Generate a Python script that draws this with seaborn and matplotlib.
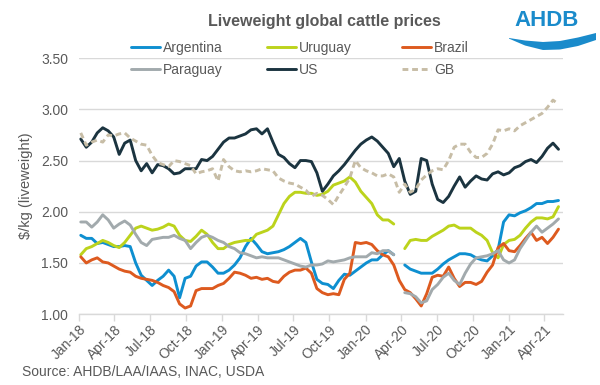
import numpy as np
import pandas as pd
import matplotlib
matplotlib.use("Agg")
import matplotlib.pyplot as plt
import matplotlib.dates as mdates
from matplotlib.patches import Polygon
import seaborn as sns

# ---------------- data (fortnightly, $/kg liveweight) ----------------
dates = pd.date_range("2018-01-05", periods=88, freq="14D")
nan = np.nan

argentina = [1.77, 1.74, 1.74, 1.69, 1.70, 1.68, 1.66, 1.66, 1.67, 1.66,
             1.50, 1.38, 1.33, 1.28, 1.33, 1.37, 1.43, 1.37, 1.16, 1.35,
             1.37, 1.47, 1.51, 1.51, 1.46, 1.40, 1.40, 1.43, 1.48, 1.55,
             1.66, 1.74, 1.68, 1.61, 1.59, 1.60, 1.61, 1.63, 1.66, 1.70,
             1.74, 1.70, 1.51, 1.34, 1.30, 1.29, 1.25, 1.33, 1.39, 1.38,
             1.42, 1.46, 1.50, 1.53, 1.53, 1.58, 1.62, 1.58, nan, 1.48,
             1.44, 1.42, 1.40, 1.40, 1.40, 1.44, 1.49, 1.53, 1.56, 1.59,
             1.59, 1.58, 1.55, 1.53, 1.52, 1.57, 1.63, 1.90, 1.97, 1.96,
             1.99, 2.01, 2.04, 2.08, 2.08, 2.10, 2.10, 2.11]

uruguay = [1.58, 1.64, 1.66, 1.69, 1.72, 1.70, 1.67, 1.65, 1.70, 1.77,
           1.84, 1.86, 1.84, 1.82, 1.83, 1.85, 1.88, 1.86, 1.77, 1.72,
           1.71, 1.76, 1.82, 1.78, 1.70, 1.64, 1.64, 1.68, 1.70, 1.71,
           1.72, 1.72, 1.78, 1.80, 1.82, 1.86, 1.97, 2.08, 2.15, 2.19,
           2.19, 2.18, 2.18, 2.16, 2.17, 2.20, 2.26, 2.28, 2.30, 2.34,
           2.29, 2.20, 2.14, 2.08, 1.97, 1.92, 1.92, 1.88, nan, 1.64,
           1.72, 1.73, 1.72, 1.72, 1.76, 1.79, 1.82, 1.86, 1.87, 1.84,
           1.84, 1.84, 1.80, 1.77, 1.72, 1.60, 1.55, 1.68, 1.72, 1.73,
           1.77, 1.84, 1.90, 1.94, 1.94, 1.93, 1.95, 2.05]

brazil = [1.56, 1.50, 1.53, 1.55, 1.51, 1.50, 1.47, 1.44, 1.42, 1.41,
          1.37, 1.35, 1.34, 1.33, 1.31, 1.28, 1.26, 1.22, 1.10, 1.06,
          1.08, 1.23, 1.25, 1.25, 1.25, 1.28, 1.30, 1.35, 1.41, 1.40,
          1.38, 1.35, 1.36, 1.34, 1.35, 1.32, 1.31, 1.37, 1.41, 1.43,
          1.43, 1.45, 1.40, 1.25, 1.21, 1.19, 1.20, 1.19, 1.34, 1.40,
          1.70, 1.69, 1.70, 1.68, 1.62, 1.58, 1.56, 1.48, 1.33, 1.24,
          1.21, 1.15, 1.08, 1.20, 1.36, 1.38, 1.37, 1.46, 1.35, 1.27,
          1.31, 1.31, 1.29, 1.32, 1.41, 1.48, 1.65, 1.69, 1.62, 1.61,
          1.67, 1.74, 1.80, 1.72, 1.75, 1.69, 1.75, 1.83]

paraguay = [1.90, 1.90, 1.85, 1.90, 1.97, 1.92, 1.84, 1.88, 1.91, 1.87,
            1.78, 1.70, 1.67, 1.73, 1.74, 1.75, 1.75, 1.77, 1.74, 1.72,
            1.64, 1.70, 1.75, 1.77, 1.75, 1.72, 1.70, 1.66, 1.64, 1.60,
            1.59, 1.57, 1.55, 1.56, 1.55, 1.55, 1.55, 1.53, 1.51, 1.49,
            1.47, 1.46, 1.48, 1.48, 1.49, 1.52, 1.51, 1.52, 1.53, 1.55,
            1.56, 1.56, 1.56, 1.60, 1.59, 1.62, 1.62, 1.58, nan, 1.21,
            1.20, 1.17, 1.11, 1.13, 1.24, 1.29, 1.36, 1.40, 1.33, 1.29,
            1.40, 1.49, 1.55, 1.56, 1.57, 1.59, 1.62, 1.53, 1.50, 1.53,
            1.64, 1.72, 1.80, 1.86, 1.80, 1.84, 1.88, 1.93]

us = [2.71, 2.63, 2.68, 2.77, 2.82, 2.79, 2.73, 2.56, 2.67, 2.70,
      2.50, 2.40, 2.47, 2.38, 2.46, 2.45, 2.42, 2.37, 2.38, 2.42,
      2.42, 2.42, 2.51, 2.50, 2.54, 2.61, 2.68, 2.72, 2.72, 2.74,
      2.76, 2.80, 2.81, 2.76, 2.81, 2.68, 2.56, 2.53, 2.47, 2.43,
      2.50, 2.50, 2.49, 2.38, 2.20, 2.27, 2.35, 2.40, 2.46, 2.53,
      2.60, 2.66, 2.70, 2.73, 2.69, 2.63, 2.57, 2.44, 2.52, 2.30,
      2.17, 2.20, 2.52, 2.50, 2.27, 2.12, 2.09, 2.15, 2.25, 2.34,
      2.24, 2.30, 2.35, 2.32, 2.31, 2.37, 2.39, 2.36, 2.38, 2.43,
      2.45, 2.49, 2.51, 2.48, 2.54, 2.62, 2.67, 2.61]

gb = [2.77, 2.65, 2.68, 2.70, 2.68, 2.75, 2.74, 2.76, 2.77, 2.72,
      2.69, 2.66, 2.65, 2.55, 2.48, 2.46, 2.44, 2.50, 2.49, 2.47,
      2.45, 2.37, 2.39, 2.40, 2.42, 2.30, 2.51, 2.44, 2.40, 2.39,
      2.40, 2.39, 2.40, 2.42, 2.41, 2.40, 2.33, 2.30, 2.28, 2.27,
      2.24, 2.21, 2.15, 2.18, 2.16, 2.12, 2.07, 2.16, 2.24, 2.33,
      2.50, 2.43, 2.40, 2.38, 2.35, 2.35, 2.37, 2.34, 2.19, 2.27,
      2.19, 2.22, 2.31, 2.36, 2.40, 2.42, 2.41, 2.50, 2.63, 2.66,
      2.66, 2.58, 2.53, 2.53, 2.57, 2.66, 2.80, 2.79, 2.81, 2.79,
      2.84, 2.87, 2.90, 2.93, 2.96, 3.02, 3.09, 3.05]

series_names = ["Argentina", "Uruguay", "Brazil", "Paraguay", "US", "GB"]
series_values = [argentina, uruguay, brazil, paraguay, us, gb]
colors = ["#0E8FD0", "#BCD31C", "#DD5A1F", "#A2AAAD", "#1B3440", "#C7BDA6"]

# ---------------- figure ----------------
sns.set_theme(style="white")
plt.rcParams["font.family"] = ["Liberation Sans", "DejaVu Sans"]

fig = plt.figure(figsize=(6.0, 3.85), dpi=100)
ax = fig.add_axes([0.132, 0.184, 0.806, 0.665])

txt_col = "#595959"
grid_col = "#D9D9D9"

handle_map = {}
for name, vals, col in zip(series_names, series_values, colors):
    v = np.array(vals, dtype=float)
    seg = np.cumsum(np.isnan(v))
    df = pd.DataFrame({"date": dates, "price": v, "seg": seg}).dropna()
    kw = dict(dashes=(2.0, 1.3)) if name == "GB" else {}
    first = True
    for s, sub in df.groupby("seg"):
        sns.lineplot(data=sub, x="date", y="price", ax=ax, color=col,
                     linewidth=2.1, legend=False, **kw)
        if first:
            handle_map[name] = ax.get_lines()[-1]
        first = False

ax.set_ylim(1.0, 3.5)
yt = [1.0, 1.5, 2.0, 2.5, 3.0, 3.5]
ax.set_yticks(yt)
ax.set_yticklabels([f"{t:.2f}" for t in yt])
ax.set_xlim(pd.Timestamp("2018-01-01"), pd.Timestamp("2021-05-18"))
ax.xaxis.set_major_locator(mdates.MonthLocator(bymonth=[1, 4, 7, 10]))
ax.xaxis.set_major_formatter(mdates.DateFormatter("%b-%y"))

ax.grid(axis="y", color=grid_col, linewidth=1.0)
ax.grid(axis="x", visible=False)
ax.set_axisbelow(True)
for sp in ["top", "right", "left"]:
    ax.spines[sp].set_visible(False)
ax.spines["bottom"].set_color(grid_col)
ax.spines["bottom"].set_linewidth(1.0)

ax.tick_params(axis="y", length=0, labelsize=10, labelcolor=txt_col, pad=8)
ax.tick_params(axis="x", length=5, color=grid_col, width=1.0,
               labelsize=10, labelcolor=txt_col, pad=1, direction="out",
               bottom=True)
for lab in ax.get_xticklabels():
    lab.set_rotation(45)
    lab.set_ha("right")
    lab.set_rotation_mode("anchor")

ax.set_xlabel("")
ax.set_ylabel(r"\$/kg (liveweight)", fontsize=10.5, color=txt_col, labelpad=6)

# legend: three fixed-pitch columns, two rows (row-wise order)
leg_columns = [["Argentina", "Paraguay"], ["Uruguay", "US"], ["Brazil", "GB"]]
col_x_px = [131, 267, 402]
for names, xpx in zip(leg_columns, col_x_px):
    lg = fig.legend([handle_map[n] for n in names], names, ncol=1,
                    loc="upper left", bbox_to_anchor=(xpx / 600, 1 - 41 / 385),
                    frameon=False, fontsize=10, handlelength=2.1,
                    handletextpad=0.2, labelspacing=0.6, borderpad=0,
                    borderaxespad=0, labelcolor=txt_col)

fig.text(0.54, 0.945, "Liveweight global cattle prices", ha="center",
         va="center", fontsize=11.5, fontweight="bold", color=txt_col)
fig.text(0.037, 0.035, "Source: AHDB/LAA/IAAS, INAC, USDA", ha="left",
         va="center", fontsize=10, color=txt_col)

# AHDB logo (decoration)
logo_col = "#1A8BCB"
fig.text(0.9115, 1 - 20.5 / 385, "AHDB", ha="center", va="center",
         fontsize=16, fontweight="bold", color=logo_col)
xs = np.linspace(509, 596, 60)
top = np.interp(xs, [509, 525, 543, 560, 578, 596],
                [38.0, 40.5, 42.0, 41.0, 37.5, 33.0])
bot = np.interp(xs, [509, 525, 543, 560, 578, 596],
                [38.6, 45.5, 50.0, 49.5, 46.0, 40.0])
pts = np.concatenate([np.column_stack([xs, top]),
                      np.column_stack([xs[::-1], bot[::-1]])])
pts_fig = np.column_stack([pts[:, 0] / 600.0, 1 - pts[:, 1] / 385.0])
fig.patches.append(Polygon(pts_fig, closed=True, transform=fig.transFigure,
                           facecolor=logo_col, edgecolor="none"))

fig.savefig("out.png", dpi=100)
